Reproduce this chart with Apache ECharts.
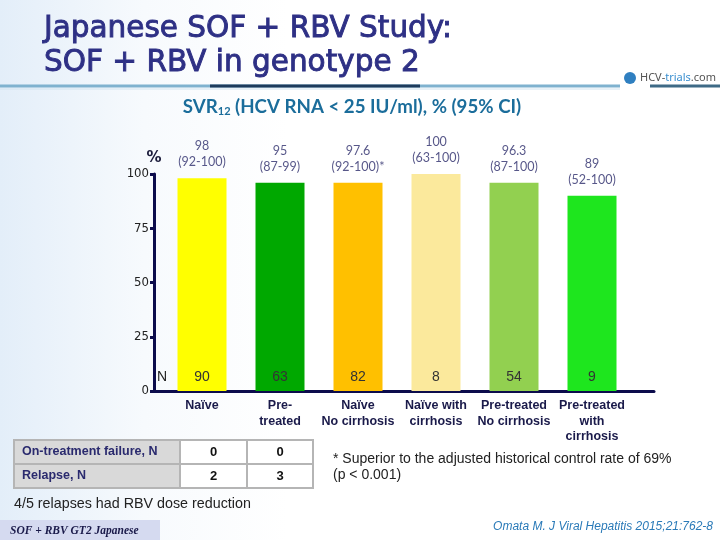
<!DOCTYPE html>
<html>
<head>
<meta charset="utf-8">
<script src="https://cdn.jsdelivr.net/npm/echarts@6/dist/echarts.min.js"></script>
<style>html,body{margin:0;padding:0;background:#fff}#c{width:720px;height:540px}</style>
</head>
<body>
<div id="c"></div>
<script>
// ---- data ----
var categories = ['Naïve\n ', 'Pre-\ntreated', 'Naïve\nNo cirrhosis', 'Naïve with\ncirrhosis', 'Pre-treated\nNo cirrhosis', 'Pre-treated\nwith\ncirrhosis'];
var barHeights = [98, 96, 96, 100, 96, 90];
var svrLabels = ['98', '95', '97.6', '100', '96.3', '89'];
var ciLabels = ['(92-100)', '(87-99)', '(92-100)*', '(63-100)', '(87-100)', '(52-100)'];
var nValues = [90, 63, 82, 8, 54, 9];
var yTicks = [0, 25, 50, 75, 100];
var tableRows = ['On-treatment failure, N', 'Relapse, N'];
var onTreatmentFailure = [0, 0];
var relapse = [2, 3];

var barColors = ['#ffff00', '#00a800', '#ffc000', '#fbe99c', '#92d050', '#1ee61e'];
var navy = '#0c0c4c';
var narrow = '"DejaVu Sans Condensed","Liberation Sans",sans-serif';
var arial = '"Liberation Sans",Arial,sans-serif';

var chart = echarts.init(document.getElementById('c'), null, {renderer: 'canvas'});

// table graphics
var tableValues = [onTreatmentFailure, relapse];
var colX = [14, 180, 247, 313];
var rowY = [440, 464, 488];
var tableEls = [];
for (var r = 0; r < tableRows.length; r++) {
  tableEls.push({type: 'rect', shape: {x: colX[0], y: rowY[r], width: colX[1] - colX[0], height: rowY[r + 1] - rowY[r]},
    style: {fill: '#d9d9d9', stroke: '#b5b5b5', lineWidth: 2}});
  tableEls.push({type: 'text', x: colX[0] + 8, y: (rowY[r] + rowY[r + 1]) / 2,
    style: {text: tableRows[r], fill: '#2a2a6e', font: 'bold 12.5px ' + arial, verticalAlign: 'middle'}});
  for (var c = 0; c < 2; c++) {
    tableEls.push({type: 'rect', shape: {x: colX[c + 1], y: rowY[r], width: colX[c + 2] - colX[c + 1], height: rowY[r + 1] - rowY[r]},
      style: {fill: '#ffffff', stroke: '#b5b5b5', lineWidth: 2}});
    tableEls.push({type: 'text', x: (colX[c + 1] + colX[c + 2]) / 2, y: (rowY[r] + rowY[r + 1]) / 2,
      style: {text: String(tableValues[r][c]), fill: '#111', font: 'bold 13px ' + arial, align: 'center', verticalAlign: 'middle'}});
  }
}

var option = {
  animation: false,
  backgroundColor: {
    type: 'linear', x: 0, y: 0, x2: 1, y2: 0,
    colorStops: [{offset: 0, color: '#e3eef9'}, {offset: 0.2, color: '#f7fafd'}, {offset: 0.4, color: '#ffffff'}, {offset: 1, color: '#ffffff'}]
  },
  title: {
    text: 'Japanese SOF + RBV Study:\nSOF + RBV in genotype 2',
    left: 39, top: 7,
    textStyle: {fontFamily: '"DejaVu Sans",sans-serif', fontSize: 29.5, fontWeight: 'normal', color: '#2e3085', lineHeight: 34,
      textBorderColor: '#2e3085', textBorderWidth: 0.9}
  },
  graphic: [
    {type: 'line', shape: {x1: 0, y1: 86, x2: 620, y2: 86}, style: {stroke: '#7fb2cf', lineWidth: 3}},
    {type: 'line', shape: {x1: 210, y1: 86, x2: 420, y2: 86}, style: {stroke: '#1d3b5c', lineWidth: 3}},
    {type: 'line', shape: {x1: 0, y1: 89, x2: 620, y2: 89}, style: {stroke: '#d2e4f0', lineWidth: 1}},
    {type: 'line', shape: {x1: 650, y1: 86, x2: 720, y2: 86}, style: {stroke: '#3e6a86', lineWidth: 3}},
    {type: 'circle', shape: {cx: 630, cy: 78, r: 6}, style: {fill: '#2f7fc0'}},
    {type: 'text', x: 640, y: 78, style: {rich: {a: {fill: '#555', fontSize: 11, fontFamily: '"Noto Sans",sans-serif'}, b: {fill: '#3a8fd0', fontSize: 11, fontFamily: '"Noto Sans",sans-serif'}},
      text: '{a|HCV-}{b|trials}{a|.com}', verticalAlign: 'middle'}},
    {type: 'text', x: 352, y: 107, style: {
      text: '{t|SVR}{s|12}{t| (HCV RNA < 25 IU/ml), % (95% CI)}', align: 'center', verticalAlign: 'middle',
      rich: {t: {fill: '#1b6d9b', fontSize: 18.7, fontWeight: 'bold', fontFamily: 'Lato,"Open Sans",sans-serif'},
             s: {fill: '#1b6d9b', fontSize: 11, fontWeight: 'bold', fontFamily: 'Lato,"Open Sans",sans-serif', padding: [9, 0, 0, 0]}}}},
    {type: 'text', x: 157, y: 377, style: {text: 'N', fill: '#222', font: '14px ' + arial, verticalAlign: 'middle'}},
    {type: 'text', x: 333, y: 451, style: {text: '* Superior to the adjusted historical control rate of 69%\n(p < 0.001)', fill: '#222', font: '14px ' + arial, lineHeight: 16}},
    {type: 'text', x: 14, y: 497, style: {text: '4/5 relapses had RBV dose reduction', fill: '#222', font: '14.3px ' + arial}},
    {type: 'rect', shape: {x: 0, y: 520, width: 160, height: 20}, style: {fill: '#d5daf0'}},
    {type: 'text', x: 10, y: 531, style: {text: 'SOF + RBV GT2 Japanese', fill: '#1a1a4a', font: 'italic bold 11.5px "Liberation Serif","DejaVu Serif",serif', verticalAlign: 'middle'}},
    {type: 'text', x: 713, y: 527, style: {text: 'Omata M. J Viral Hepatitis 2015;21:762-8', fill: '#2a7ab8', font: 'italic 12px ' + arial, align: 'right', verticalAlign: 'middle'}}
  ].concat(tableEls),
  grid: [
    {left: 163, right: 89, top: 174, bottom: 149},
    {left: 154, right: 66, top: 174, bottom: 149}
  ],
  xAxis: [
    {type: 'category', gridIndex: 0, data: categories,
      axisLine: {show: false}, axisTick: {show: false},
      axisLabel: {interval: 0, margin: 7, color: '#1a1a4a', fontWeight: 'bold', fontSize: 12.5, lineHeight: 15.5, fontFamily: arial, verticalAlign: 'top'}},
    {type: 'value', gridIndex: 1, min: 0, max: 1,
      axisLine: {show: true, lineStyle: {color: navy, width: 3}}, axisTick: {show: false}, axisLabel: {show: false}, splitLine: {show: false}}
  ],
  yAxis: [
    {type: 'value', gridIndex: 0, min: yTicks[0], max: yTicks[yTicks.length - 1], interval: 25, offset: 9,
      name: '%', nameLocation: 'end', nameGap: 8,
      nameTextStyle: {color: '#1a1a3a', fontWeight: 'bold', fontSize: 15, fontFamily: '"DejaVu Sans",sans-serif'},
      axisLine: {show: true, lineStyle: {color: navy, width: 3}},
      axisTick: {show: true, inside: false, length: 4, lineStyle: {color: navy, width: 3}},
      axisLabel: {margin: 5, color: '#222', fontSize: 13, fontFamily: narrow},
      splitLine: {show: false}},
    {type: 'value', gridIndex: 1, min: 0, max: 100, show: false}
  ],
  series: [
    {type: 'bar', xAxisIndex: 0, yAxisIndex: 0, barWidth: 49,
      data: barHeights.map(function (v, i) { return {value: v, itemStyle: {color: barColors[i]}}; }),
      label: {show: true, position: 'insideBottom', distance: 7, color: '#333', fontSize: 14, fontFamily: arial,
        formatter: function (p) { return String(nValues[p.dataIndex]); }}},
    {type: 'scatter', xAxisIndex: 0, yAxisIndex: 0, symbolSize: 0, silent: true,
      data: barHeights.map(function (v, i) { return [i, v]; }),
      label: {show: true, position: 'top', distance: 8, color: '#2d2d6b', fontSize: 12.5, lineHeight: 16,
        fontFamily: 'Lato,"Open Sans",sans-serif',
        formatter: function (p) { return svrLabels[p.dataIndex] + '\n' + ciLabels[p.dataIndex]; }}}
  ]
};
chart.setOption(option);
</script>
</body>
</html>
